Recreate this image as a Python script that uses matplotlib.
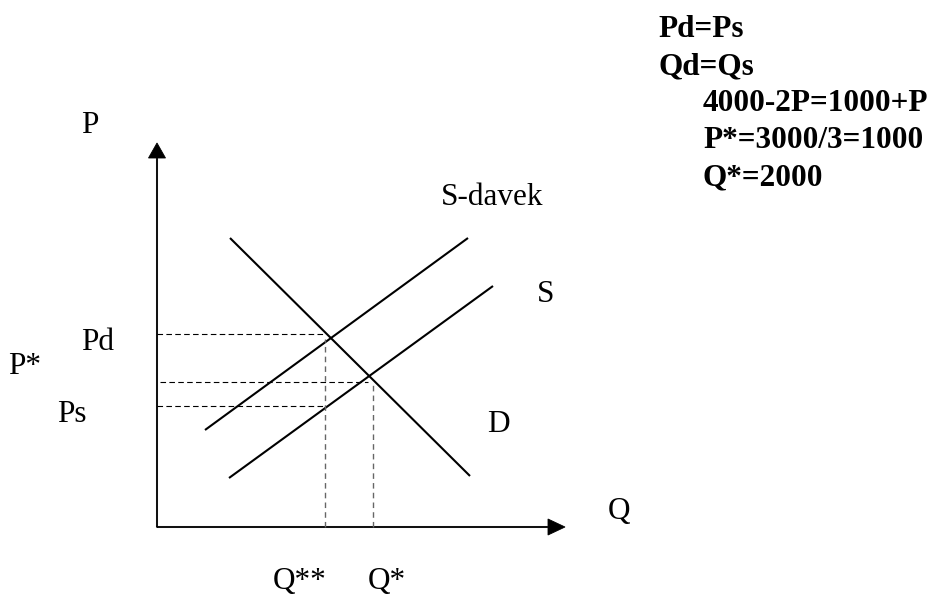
import matplotlib.pyplot as plt

plt.rcParams['font.family'] = ['Liberation Serif', 'DejaVu Serif']

# curve endpoints (Q, P) in drawing units, origin at the axes corner
demand_q = [73, 313]
demand_p = [289, 51]
supply_q = [72, 336]
supply_p = [49, 241]
supply_tax_q = [48, 311]
supply_tax_p = [97, 289]

# guide levels
p_d = 193
p_star = 145
p_s = 121
q_2star = 168
q_star = 216
p_at_q2star = 188

# axis lengths
q_axis_len = 408
p_axis_len = 384

equations = ['Pd=Ps', 'Qd=Qs', '4000-2P=1000+P', 'P*=3000/3=1000', 'Q*=2000']

fig = plt.figure(figsize=(9.36, 5.94), dpi=100)
ax = fig.add_axes([0, 0, 1, 1])
ax.set_xlim(-157, 779)
ax.set_ylim(-67, 527)
ax.axis('off')

# axes with arrow heads
ax.arrow(0, 0, 0, p_axis_len, width=1.2, head_width=17, head_length=15,
         length_includes_head=True, color='black', lw=0.6)
ax.arrow(0, 0, q_axis_len, 0, width=1.2, head_width=16, head_length=17,
         length_includes_head=True, color='black', lw=0.6)

# curves
ax.plot(demand_q, demand_p, color='black', lw=1.5, solid_capstyle='butt')
ax.plot(supply_q, supply_p, color='black', lw=1.5, solid_capstyle='butt')
ax.plot(supply_tax_q, supply_tax_p, color='black', lw=1.5, solid_capstyle='butt')

# horizontal guides
ax.plot([0, q_2star], [p_d, p_d], color='black', lw=0.8, dashes=(5, 3))
ax.plot([3, q_star - 5], [p_star, p_star], color='black', lw=0.8, dashes=(5, 3))
ax.plot([0, q_2star], [p_s, p_s], color='black', lw=0.8, dashes=(5, 3))

# vertical guides
ax.plot([q_2star, q_2star], [0, p_at_q2star], color='#666666', lw=1.0, dashes=(4, 3))
ax.plot([q_star, q_star], [0, p_star], color='#666666', lw=1.0, dashes=(4, 3))

fs = 22.5
labels = [('P', -76, 394), ('S-davek', 284, 322), ('S', 380, 225), ('D', 330, 95),
          ('Q', 451, 8), ('Pd', -76, 177), ('P*', -149, 153), ('Ps', -100, 105),
          ('Q**', 116, -62), ('Q*', 211, -62)]
for txt, x, y in labels:
    ax.text(x, y, txt, fontsize=fs, ha='left', va='baseline')

eq_x = [501, 501, 546, 546, 546]
eq_y = [490, 453, 416, 379, 342]
for txt, x, y in zip(equations, eq_x, eq_y):
    ax.text(x, y, txt, fontsize=fs, fontweight='bold', ha='left', va='baseline')

fig.savefig('out.png', dpi=100)
